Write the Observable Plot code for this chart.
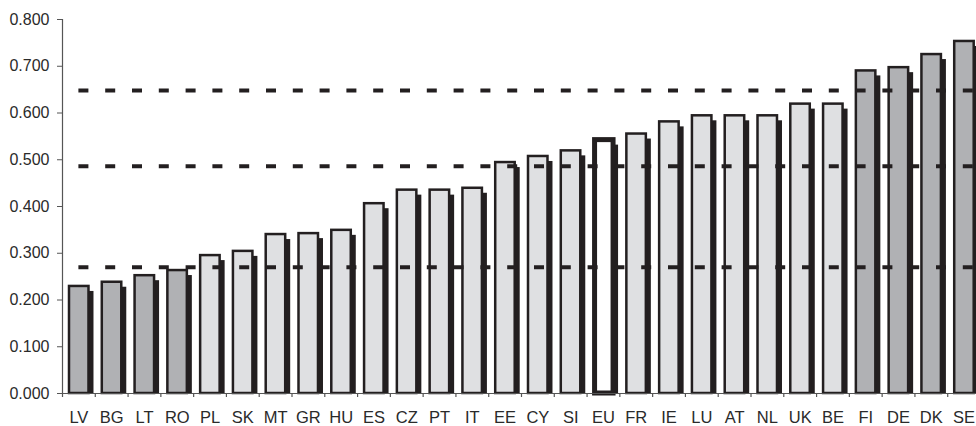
<!DOCTYPE html>
<html>
<head>
<meta charset="utf-8">
<script src="https://cdn.jsdelivr.net/npm/d3@7"></script>
<script src="https://cdn.jsdelivr.net/npm/@observablehq/plot@0.6"></script>
<style>
  html, body { margin: 0; padding: 0; background: white; }
  #chart { width: 976px; height: 426px; overflow: hidden; }
</style>
</head>
<body>
<div id="chart"></div>
<script>
const countries = ["LV","BG","LT","RO","PL","SK","MT","GR","HU","ES","CZ","PT","IT","EE","CY","SI","EU","FR","IE","LU","AT","NL","UK","BE","FI","DE","DK","SE"];
const values = [0.229,0.238,0.252,0.263,0.295,0.304,0.340,0.342,0.349,0.406,0.435,0.435,0.439,0.494,0.507,0.519,0.542,0.555,0.581,0.594,0.594,0.594,0.619,0.619,0.690,0.697,0.725,0.753];
const groups = ["outer","outer","outer","outer","middle","middle","middle","middle","middle","middle","middle","middle","middle","middle","middle","middle","EU","middle","middle","middle","middle","middle","middle","middle","outer","outer","outer","outer"];
const refLines = [0.648, 0.486, 0.270];
const yTicks = [0, 0.1, 0.2, 0.3, 0.4, 0.5, 0.6, 0.7, 0.8];

const data = countries.map((c, i) => ({c, v: values[i], g: groups[i]}));
const ink = "#231f20";
const axisInk = "#555";
const half = (980 - 62) / countries.length / 2;

const chart = Plot.plot({
  width: 976,
  height: 426,
  marginLeft: 62,
  marginRight: 0,
  marginTop: 19,
  marginBottom: 33,
  style: {fontFamily: "'Liberation Sans', Arial, sans-serif", fontSize: "16px", color: "#2a2a2a", background: "white", overflow: "hidden"},
  x: {domain: countries, range: [62, 980], paddingInner: 0, paddingOuter: 0, align: 0.5, round: false, label: null, axis: null},
  y: {domain: [0, 0.8], range: [393, 19], label: null, axis: null},
  color: {domain: ["outer", "middle", "EU"], range: ["#b0b1b4", "#dfe0e2", "#ffffff"]},
  marks: [
    Plot.barY(data, {x: "c", y: "v", fill: ink, dx: 5, insetTop: 5, insetLeft: 7, insetRight: 6.3}),
    Plot.barY(data.filter(d => d.g !== "EU"), {x: "c", y: "v", fill: "g", stroke: ink, strokeWidth: 2.5, insetLeft: 7, insetRight: 6.3}),
    Plot.barY(data.filter(d => d.g === "EU"), {x: "c", y: "v", fill: "g", stroke: ink, strokeWidth: 5, insetLeft: 8, insetRight: 6.3}),
    Plot.ruleY(refLines, {stroke: ink, strokeWidth: 4, strokeDasharray: "10,16.8", strokeDashoffset: 10.4}),
    Plot.ruleY([0], {stroke: axisInk, strokeWidth: 1.2}),
    Plot.tickX([countries[0]], {x: d => d, dx: -half, stroke: axisInk, strokeWidth: 1.2}),
    Plot.tickX(countries, {x: d => d, dx: -half, insetTop: 374, insetBottom: -4, stroke: axisInk, strokeWidth: 1.2}),
    Plot.axisY({ticks: yTicks, tickFormat: d3.format(".3f"), tickSize: 5, tickPadding: 8, stroke: axisInk, fontSize: 16}),
    Plot.axisX({tickSize: 0, tickPadding: 18, fontSize: 16.5})
  ]
});
document.getElementById("chart").appendChild(chart);
</script>
</body>
</html>
